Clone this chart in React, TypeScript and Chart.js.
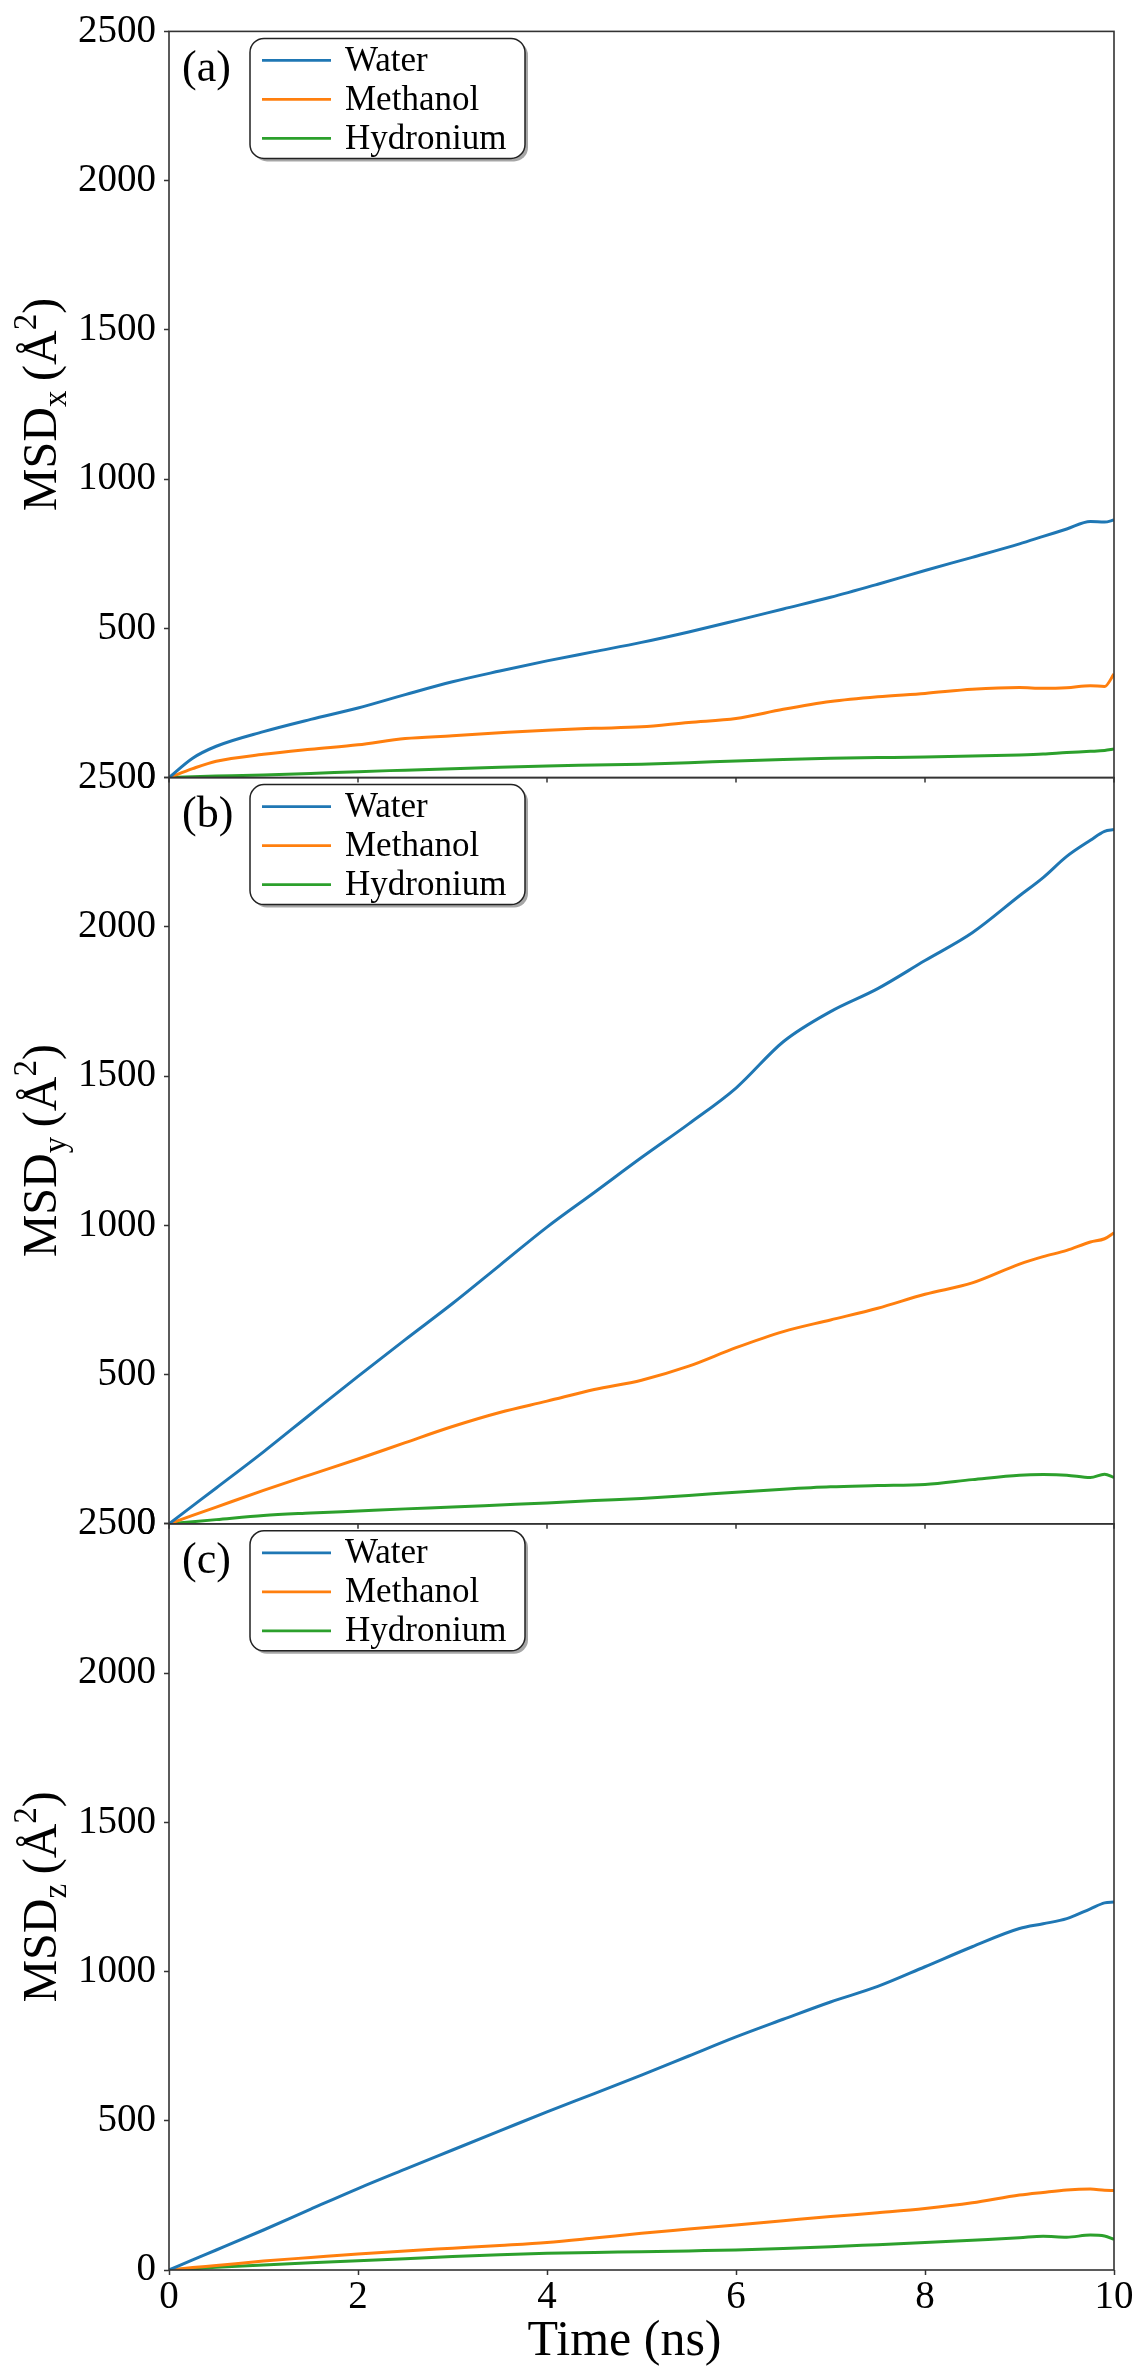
import React, { useEffect, useRef } from 'react';
import { Chart, registerables } from 'chart.js';

Chart.register(...registerables);

// time axis shared by all series (ns)
const TIME_NS = [0, 0.25, 0.5, 1, 1.5, 2, 2.5, 3, 3.5, 4, 4.5, 5, 5.5, 6, 6.5, 7, 7.5, 8, 8.5, 9, 9.25, 9.5, 9.75, 9.9, 10];

// (a) MSD_x
const WATER_X = [0, 65, 105, 154, 195, 233, 278, 321, 357, 391, 422, 453, 488, 526, 565, 604, 648, 694, 738, 783, 808, 833, 858, 856, 863];
const METHANOL_X = [0, 30, 55, 78, 95, 110, 131, 140, 150, 159, 165, 170, 185, 198, 229, 255, 271, 282, 296, 302, 299, 301, 308, 305, 347];
const HYDRONIUM_X = [0, 3, 5, 9, 14, 20, 25, 30, 35, 39, 42, 45, 50, 56, 61, 65, 67, 69, 72, 76, 79, 84, 88, 91, 96];

// (b) MSD_y
const WATER_Y = [0, 60, 120, 241, 368, 494, 617, 738, 866, 994, 1110, 1227, 1340, 1460, 1615, 1716, 1793, 1887, 1980, 2104, 2165, 2236, 2290, 2320, 2326];
const METHANOL_Y = [0, 28, 56, 112, 165, 217, 272, 326, 373, 411, 450, 481, 528, 590, 644, 683, 722, 769, 807, 870, 895, 916, 944, 955, 975];
const HYDRONIUM_Y = [0, 7, 14, 28, 36, 43, 50, 56, 63, 70, 78, 85, 95, 106, 116, 124, 128, 132, 148, 163, 165, 163, 155, 166, 155];

// (c) MSD_z
const WATER_Z = [0, 34, 67, 134, 204, 273, 338, 402, 466, 530, 591, 653, 717, 781, 840, 898, 950, 1016, 1083, 1144, 1160, 1177, 1210, 1230, 1233];
const METHANOL_Z = [0, 8, 15, 30, 42, 54, 64, 73, 82, 92, 107, 123, 137, 151, 165, 179, 192, 206, 225, 251, 260, 268, 271, 267, 266];
const HYDRONIUM_Z = [0, 4, 9, 17, 24, 31, 38, 45, 51, 56, 59, 61, 64, 67, 72, 78, 85, 92, 100, 108, 113, 110, 117, 114, 103];

const SERIES_NAMES = ['Water', 'Methanol', 'Hydronium'];
const SERIES_COLORS = ['#1f77b4', '#ff7f0e', '#2ca02c'];
const PANEL_LABELS = ['(a)', '(b)', '(c)'];
const PANEL_SUBS = ['x', 'y', 'z'];
const PANEL_AXES = ['ya', 'yb', 'yc'];

const W = 1138;
const H = 2378;
const FONT = "'Liberation Serif', 'DejaVu Serif', serif";
const FRAME = '#333';

const toPoints = (vals: number[]) => TIME_NS.map((t, i) => ({ x: t, y: vals[i] }));

const roundRect = (ctx: CanvasRenderingContext2D, x: number, y: number, w: number, h: number, r: number) => {
    ctx.beginPath();
    ctx.moveTo(x + r, y);
    ctx.arcTo(x + w, y, x + w, y + h, r);
    ctx.arcTo(x + w, y + h, x, y + h, r);
    ctx.arcTo(x, y + h, x, y, r);
    ctx.arcTo(x, y, x + w, y, r);
    ctx.closePath();
};

// frames, inner x ticks, legends, panel tags and axis titles
const decorPlugin = {
    id: 'panelDecor',
    afterDatasetsDraw(chart: any) {
        const ctx: CanvasRenderingContext2D = chart.ctx;
        const { left, right } = chart.chartArea;
        const xs = chart.scales.x;

        PANEL_AXES.forEach((id, i) => {
            const ys = chart.scales[id];
            const top = ys.top;
            const bottom = ys.bottom;
            ctx.save();

            ctx.strokeStyle = FRAME;
            ctx.lineWidth = 1.6;
            ctx.strokeRect(left, top, right - left, bottom - top);

            // outward x ticks under the upper panels
            if (i < 2) {
                ctx.lineWidth = 1.5;
                for (let v = 0; v <= 10; v += 2) {
                    const px = xs.getPixelForValue(v);
                    ctx.beginPath();
                    ctx.moveTo(px, bottom);
                    ctx.lineTo(px, bottom + 5);
                    ctx.stroke();
                }
            }

            // legend box with shadow
            const lx = left + 81;
            const ly = top + 7;
            const lw = 275;
            const lh = 120;
            ctx.fillStyle = 'rgba(0,0,0,0.35)';
            roundRect(ctx, lx + 3, ly + 3, lw, lh, 14);
            ctx.fill();
            ctx.fillStyle = '#fff';
            roundRect(ctx, lx, ly, lw, lh, 14);
            ctx.fill();
            ctx.strokeStyle = '#222';
            ctx.lineWidth = 1.5;
            ctx.stroke();

            ctx.font = `35px ${FONT}`;
            ctx.textBaseline = 'middle';
            ctx.textAlign = 'left';
            SERIES_NAMES.forEach((name, k) => {
                const ry = top + 29 + k * 39;
                ctx.strokeStyle = SERIES_COLORS[k];
                ctx.lineWidth = 2.8;
                ctx.beginPath();
                ctx.moveTo(left + 93, ry);
                ctx.lineTo(left + 162, ry);
                ctx.stroke();
                ctx.fillStyle = '#000';
                ctx.fillText(name, left + 176, ry + 1);
            });

            // panel tag
            ctx.font = `44px ${FONT}`;
            ctx.fillStyle = '#000';
            ctx.fillText(PANEL_LABELS[i], left + 13, top + 38);

            // rotated y title: MSD_sub (Å^2)
            const big = 48;
            const small = 33;
            const parts = [
                { t: 'MSD', size: big, dy: 0 },
                { t: PANEL_SUBS[i], size: small, dy: 10 },
                { t: '\u2009(Å', size: big, dy: 0 },
                { t: '2', size: small, dy: -20 },
                { t: ')', size: big, dy: 0 },
            ];
            let total = 0;
            parts.forEach((p) => {
                ctx.font = `${p.size}px ${FONT}`;
                total += ctx.measureText(p.t).width;
            });
            ctx.translate(56, (top + bottom) / 2);
            ctx.rotate(-Math.PI / 2);
            ctx.textBaseline = 'alphabetic';
            let cx = -total / 2;
            parts.forEach((p) => {
                ctx.font = `${p.size}px ${FONT}`;
                ctx.fillText(p.t, cx, p.dy);
                cx += ctx.measureText(p.t).width;
            });
            ctx.restore();
        });

        // x title
        ctx.save();
        ctx.font = `50px ${FONT}`;
        ctx.fillStyle = '#000';
        ctx.textAlign = 'center';
        ctx.textBaseline = 'alphabetic';
        ctx.fillText('Time (ns)', (left + right) / 2 - 17, 2355);
        ctx.restore();
    },
};

const tickFont = { family: FONT, size: 39 };

const yScale = () => ({
    type: 'linear' as const,
    position: 'left' as const,
    stack: 'panels',
    stackWeight: 1,
    min: 0,
    max: 2500,
    afterFit: (s: any) => {
        s.width = 169;
    },
    ticks: {
        stepSize: 500,
        padding: 8,
        color: '#000',
        font: tickFont,
        callback: (v: any) => String(v),
    },
    grid: {
        display: true,
        drawOnChartArea: false,
        drawTicks: true,
        tickLength: 5,
        tickWidth: 1.5,
        tickColor: FRAME,
    },
    border: { display: false },
});

export default function App() {
    const canvasRef = useRef<HTMLCanvasElement>(null);

    useEffect(() => {
        if (!canvasRef.current) return;
        const panelData = [
            [WATER_X, METHANOL_X, HYDRONIUM_X],
            [WATER_Y, METHANOL_Y, HYDRONIUM_Y],
            [WATER_Z, METHANOL_Z, HYDRONIUM_Z],
        ];
        const datasets: any[] = [];
        panelData.forEach((series, p) => {
            series.forEach((vals, k) => {
                datasets.push({
                    label: `${SERIES_NAMES[k]} ${PANEL_LABELS[p]}`,
                    data: toPoints(vals),
                    xAxisID: 'x',
                    yAxisID: PANEL_AXES[p],
                    borderColor: SERIES_COLORS[k],
                    backgroundColor: SERIES_COLORS[k],
                    borderWidth: 3,
                    pointRadius: 0,
                    cubicInterpolationMode: 'monotone',
                    fill: false,
                });
            });
        });

        const chart = new Chart(canvasRef.current, {
            type: 'line',
            data: { datasets },
            options: {
                animation: false,
                responsive: false,
                layout: { padding: { top: 26, right: 24, left: 0, bottom: 0 } },
                plugins: {
                    legend: { display: false },
                    tooltip: { enabled: false },
                },
                scales: {
                    x: {
                        type: 'linear',
                        min: 0,
                        max: 10,
                        afterFit: (s: any) => {
                            s.height = 108;
                        },
                        ticks: {
                            stepSize: 2,
                            padding: -1,
                            color: '#000',
                            font: tickFont,
                            callback: (v: any) => String(v),
                        },
                        grid: {
                            display: true,
                            drawOnChartArea: false,
                            drawTicks: true,
                            tickLength: 5,
                            tickWidth: 1.5,
                            tickColor: FRAME,
                        },
                        border: { display: false },
                    },
                    // later axes are stacked on top, so (c) comes first
                    yc: yScale(),
                    yb: yScale(),
                    ya: yScale(),
                },
            } as any,
            plugins: [decorPlugin],
        });

        return () => {
            chart.destroy();
        };
    }, []);

    return (
        <div style={{ position: 'absolute', left: 0, top: 0, width: W, height: H, background: '#fff' }}>
            <canvas ref={canvasRef} width={W} height={H} style={{ display: 'block', width: W, height: H }} />
        </div>
    );
}
